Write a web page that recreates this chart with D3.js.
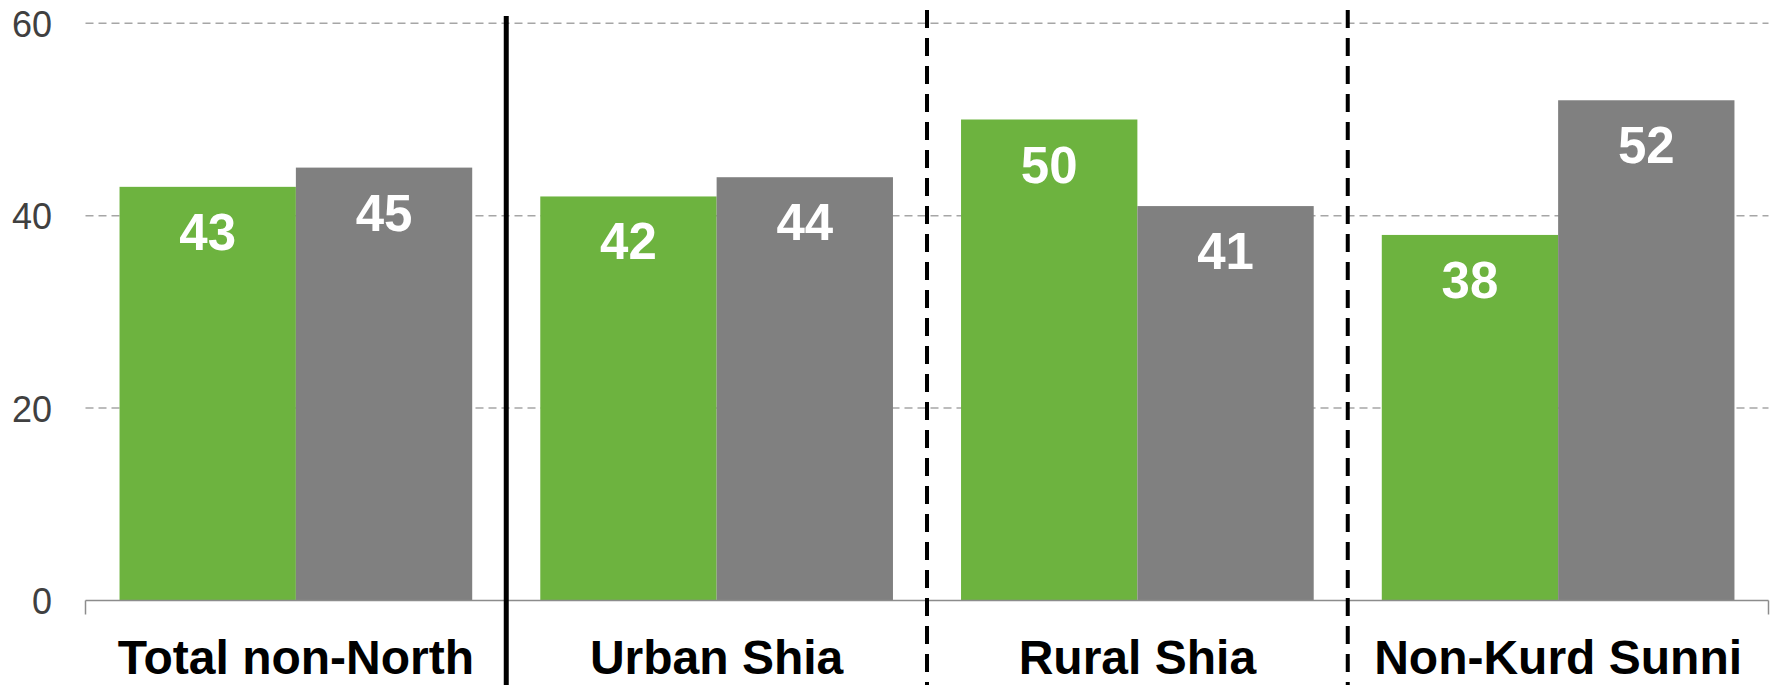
<!DOCTYPE html>
<html>
<head>
<meta charset="utf-8">
<script src="https://cdn.jsdelivr.net/npm/d3@7"></script>
<style>
  html, body { margin: 0; padding: 0; background: #ffffff; }
  svg { display: block; }
</style>
</head>
<body>
<svg id="chart" width="1772" height="685"></svg>
<script>
// ---- data ----
const categories = ["Total non-North", "Urban Shia", "Rural Shia", "Non-Kurd Sunni"];
const seriesNames = ["A", "B"];
const seriesA = [43, 42, 50, 38];
const seriesB = [45, 44, 41, 52];
const yTicks = [0, 20, 40, 60];
// separator after each category boundary: "solid" or "dashed"
const separators = ["solid", "dashed", "dashed"];

(function () {
const colors = { A: "#6DB33F", B: "#808080" };

const svg = d3.select("#chart");
const W = 1772, H = 685;
const mLeft = 85.5, mRight = 1768.5, mTop = 23.3, mBottom = 600.5;

const x0 = d3.scaleBand().domain(categories).range([mLeft, mRight]).padding(0);
const x1 = d3.scaleBand().domain(seriesNames).range([0, x0.bandwidth()])
  .paddingInner(0).paddingOuter(0.193);
const y = d3.scaleLinear().domain([0, 60]).range([mBottom, mTop]);

const rows = categories.map((c, i) => ({ cat: c, A: seriesA[i], B: seriesB[i] }));

// gridlines
svg.append("g")
  .selectAll("line")
  .data(yTicks.filter(t => t > 0))
  .join("line")
  .attr("x1", mLeft).attr("x2", mRight)
  .attr("y1", d => y(d)).attr("y2", d => y(d))
  .attr("stroke", "#a6a6a6")
  .attr("stroke-width", 1.5)
  .attr("stroke-dasharray", "8,5");

// y tick labels
const yAxis = d3.axisLeft(y).tickValues(yTicks).tickSize(0).tickPadding(0);
const yg = svg.append("g").attr("transform", `translate(52,0)`).call(yAxis);
yg.select(".domain").remove();
yg.selectAll("text")
  .attr("font-family", "Arial, 'Liberation Sans', sans-serif")
  .attr("font-size", 36)
  .attr("fill", "#404040")
  .attr("dy", "0.36em");

// bars
const groups = svg.append("g").selectAll("g")
  .data(rows)
  .join("g")
  .attr("transform", d => `translate(${x0(d.cat)},0)`);

groups.selectAll("rect")
  .data(d => seriesNames.map(s => ({ s, v: d[s] })))
  .join("rect")
  .attr("x", d => x1(d.s))
  .attr("width", x1.bandwidth())
  .attr("y", d => y(d.v))
  .attr("height", d => y(0) - y(d.v))
  .attr("fill", d => colors[d.s]);

groups.selectAll("text.val")
  .data(d => seriesNames.map(s => ({ s, v: d[s] })))
  .join("text")
  .attr("class", "val")
  .attr("x", d => x1(d.s) + x1.bandwidth() / 2)
  .attr("y", d => y(d.v) + 63)
  .attr("text-anchor", "middle")
  .attr("font-family", "Arial, 'Liberation Sans', sans-serif")
  .attr("font-weight", "bold")
  .attr("font-size", 51)
  .attr("fill", "#ffffff")
  .text(d => d.v);

// x axis line with boundary ticks
const boundaries = categories.map(c => x0(c)).concat([mRight]);
const xg = svg.append("g");
xg.append("line")
  .attr("x1", mLeft).attr("x2", mRight)
  .attr("y1", y(0)).attr("y2", y(0))
  .attr("stroke", "#8c8c8c").attr("stroke-width", 1.5);
xg.selectAll("line.tick")
  .data(boundaries)
  .join("line")
  .attr("class", "tick")
  .attr("x1", d => d).attr("x2", d => d)
  .attr("y1", y(0)).attr("y2", y(0) + 14)
  .attr("stroke", "#8c8c8c").attr("stroke-width", 1.5);

// category labels
xg.selectAll("text")
  .data(categories)
  .join("text")
  .attr("x", d => x0(d) + x0.bandwidth() / 2)
  .attr("y", 674)
  .attr("text-anchor", "middle")
  .attr("font-family", "Arial, 'Liberation Sans', sans-serif")
  .attr("font-weight", "bold")
  .attr("font-size", 48)
  .attr("fill", "#000000")
  .text(d => d);

// separators
svg.append("g").selectAll("line")
  .data(separators.map((t, i) => ({ t, x: x0(categories[i + 1]) })))
  .join("line")
  .attr("x1", d => d.x).attr("x2", d => d.x)
  .attr("y1", d => d.t === "solid" ? 16 : 10)
  .attr("y2", H)
  .attr("stroke", "#000000")
  .attr("stroke-width", d => d.t === "solid" ? 5 : 4)
  .attr("stroke-dasharray", d => d.t === "solid" ? null : "18,10");
})();
</script>
</body>
</html>
